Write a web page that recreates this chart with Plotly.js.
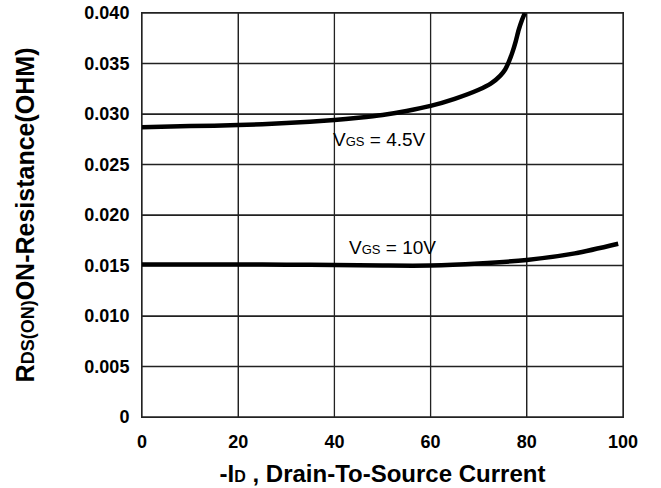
<!DOCTYPE html>
<html>
<head>
<meta charset="utf-8">
<script src="https://cdn.plot.ly/plotly-3.0.1.min.js"></script>
<style>
  html, body { margin: 0; padding: 0; background: #fff; }
  #chart { width: 661px; height: 488px; }
</style>
</head>
<body>
<div id="chart"></div>
<script>
// -ID (A) and RDS(on) (ohm)
const id45 = [0, 10, 20, 30, 40, 45, 50, 55, 60, 65, 70, 72.5, 74.5, 75.5, 76.3, 77, 77.7, 78.3, 79, 79.6];
const r45  = [0.0287, 0.0288, 0.0289, 0.0291, 0.0294, 0.02962, 0.0299, 0.03030, 0.0308, 0.0315, 0.0324, 0.0330, 0.0338, 0.0344, 0.0352, 0.0361, 0.0372, 0.0383, 0.0393, 0.0400];

const id10 = [0, 10, 20, 30, 40, 50, 60, 70, 80, 90, 99];
const r10  = [0.0151, 0.0151, 0.0151, 0.01508, 0.01505, 0.0150, 0.0150, 0.0152, 0.01555, 0.0162, 0.01715];

const xTicks = [0, 20, 40, 60, 80, 100];
const yTicks = [0, 0.005, 0.010, 0.015, 0.020, 0.025, 0.030, 0.035, 0.040];
const yTickText = ["0", "0.005", "0.010", "0.015", "0.020", "0.025", "0.030", "0.035", "0.040"];
const xRange = [0, 100];
const yRange = [0, 0.04];

const curveLabels = [
  {x: 39.6, y: 0.0275, text: 'V<span style="font-size:13px">GS</span> = 4.5V'},
  {x: 42.8, y: 0.0168, text: 'V<span style="font-size:13px">GS</span> = 10V'}
];

const FONT = 'Liberation Sans, Arial, sans-serif';
const GRID = '#222';

// grid drawn as a thin line trace built from the tick arrays and the axis ranges
const gridX = [], gridY = [];
xTicks.forEach(v => { gridX.push(v, v, null); gridY.push(yRange[0], yRange[1], null); });
yTicks.forEach(v => { gridX.push(xRange[0], xRange[1], null); gridY.push(v, v, null); });

const traces = [
  {x: gridX, y: gridY, mode: 'lines', line: {color: GRID, width: 1.3}, hoverinfo: 'skip', connectgaps: false},
  {x: id45, y: r45, mode: 'lines', line: {color: '#000', width: 4.5, shape: 'spline', smoothing: 0.6}, hoverinfo: 'skip'},
  {x: id10, y: r10, mode: 'lines', line: {color: '#000', width: 4.5, shape: 'spline', smoothing: 0.8}, hoverinfo: 'skip'}
];

const layout = {
  width: 661, height: 488,
  margin: {l: 142, r: 38, t: 13, b: 71},
  paper_bgcolor: '#fff', plot_bgcolor: '#fff',
  showlegend: false,
  font: {family: FONT, color: '#000'},
  xaxis: {
    range: xRange, tickmode: 'array',
    tickvals: xTicks, ticktext: xTicks.map(String),
    showgrid: true, gridcolor: GRID, gridwidth: 1,
    showline: true, linecolor: GRID, linewidth: 1, mirror: true,
    zeroline: false, ticks: '', ticklabelstandoff: 8,
    tickfont: {family: FONT, size: 18, color: '#000', weight: 'bold'},
    title: {text: '-I<span style="font-size:16px">D</span> , Drain-To-Source Current', standoff: 14,
            font: {family: FONT, size: 24, color: '#000', weight: 'bold'}}
  },
  yaxis: {
    range: yRange, tickmode: 'array',
    tickvals: yTicks, ticktext: yTickText,
    showgrid: true, gridcolor: GRID, gridwidth: 1,
    showline: true, linecolor: GRID, linewidth: 1, mirror: true,
    zeroline: false, ticks: '', ticklabelstandoff: 8,
    tickfont: {family: FONT, size: 18, color: '#000', weight: 'bold'},
    title: {text: 'R<span style="font-size:18px">DS(ON)</span>ON-Resistance(OHM)', standoff: 42,
            font: {family: FONT, size: 25, color: '#000', weight: 'bold'}}
  },
  annotations: curveLabels.map(l => ({
    x: l.x, y: l.y, xref: 'x', yref: 'y', text: l.text, showarrow: false,
    xanchor: 'left', yanchor: 'middle', borderpad: 0,
    font: {family: FONT, size: 19, color: '#000'}
  }))
};

Plotly.newPlot('chart', traces, layout, {staticPlot: true, displayModeBar: false});
</script>
</body>
</html>
